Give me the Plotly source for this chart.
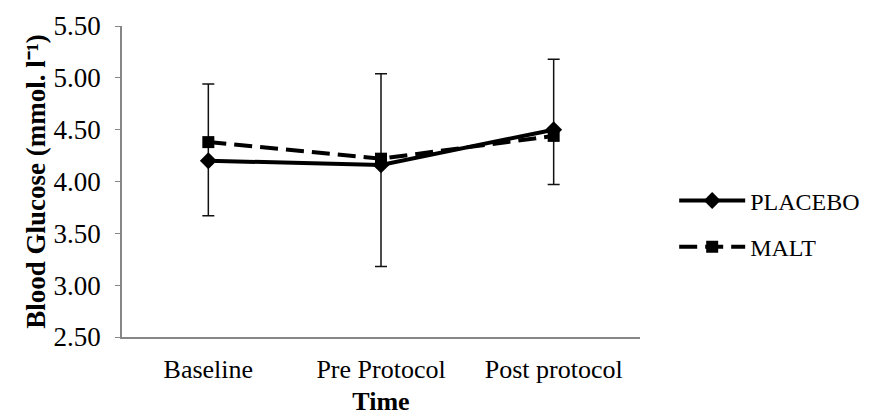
import plotly.graph_objects as go

categories = ["Baseline", "Pre Protocol", "Post protocol"]
placebo = [4.20, 4.16, 4.50]
malt = [4.38, 4.22, 4.44]
err_upper = [0.74, 0.88, 0.68]
err_lower = [0.53, 0.98, 0.53]
y_ticks = [2.5, 3.0, 3.5, 4.0, 4.5, 5.0, 5.5]

FONT = "Liberation Serif"

fig = go.Figure()
fig.add_trace(go.Scatter(
    x=categories, y=placebo, name="PLACEBO", mode="lines+markers",
    legendgroup="p",
    line=dict(color="black", width=4),
    marker=dict(symbol="diamond", size=13, color="black"),
    error_y=dict(type="data", symmetric=False, array=err_upper, arrayminus=err_lower,
                 color="#111111", thickness=1.5, width=6),
))
fig.add_trace(go.Scatter(
    x=categories, y=malt, name="MALT", mode="lines+markers",
    legendgroup="m",
    line=dict(color="black", width=4, dash="18px,8px"),
    marker=dict(symbol="square", size=12, color="black"),
))

fig.update_layout(
    width=872, height=408,
    margin=dict(l=114, r=240, t=18, b=79, autoexpand=False),
    paper_bgcolor="white", plot_bgcolor="white",
    font=dict(family=FONT, size=26, color="black"),
    showlegend=True,
    legend=dict(x=1.066, xanchor="left", y=0.51, yanchor="top",
                font=dict(family=FONT, size=24, color="black"),
                itemwidth=66, tracegroupgap=12, bgcolor="rgba(0,0,0,0)"),
    xaxis=dict(
        type="category", range=[-0.5, 2.5], showgrid=False, zeroline=False,
        automargin=False,
        showline=True, linecolor="#868686", linewidth=1.5,
        ticks="", ticklabelstandoff=8,
        tickfont=dict(family=FONT, size=26, color="black"),
        title=dict(text="<b>Time</b>", font=dict(family=FONT, size=26, color="black"), standoff=27),
    ),
    yaxis=dict(
        range=[2.5, 5.5], tickvals=y_ticks, tickformat=".2f",
        showgrid=False, zeroline=False, automargin=False,
        showline=True, linecolor="#868686", linewidth=1.5,
        ticks="outside", ticklen=5, tickcolor="#868686",
        ticklabelstandoff=9,
        tickfont=dict(family=FONT, size=27, color="black"),
        title=dict(text="<b>Blood Glucose (mmol. l⁻¹)</b>", font=dict(family=FONT, size=27, color="black"), standoff=0),
    ),
)

fig.write_html("out.html")
